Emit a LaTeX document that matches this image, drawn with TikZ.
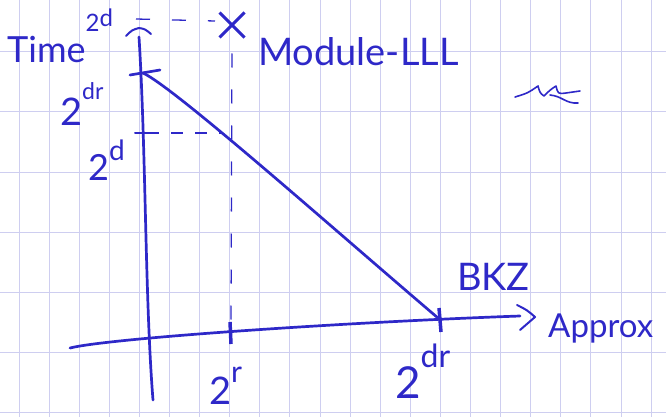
\documentclass[tikz,border=0pt]{standalone}
\usepackage{fontspec}
\setmainfont{Lato}
\usetikzlibrary{shapes.misc}
\definecolor{ink}{RGB}{46,40,200}
\definecolor{gridc}{RGB}{206,206,240}
\newcommand{\rs}[3]{\raisebox{#1}{\fontsize{#2}{#2}\selectfont #3}}
\begin{document}
\begin{tikzpicture}[x=1pt,y=-1pt,
  inkline/.style={draw=ink, line width=2.7pt, line cap=round, line join=round},
  dashline/.style={draw=ink, line width=1.3pt, dash pattern=on 14pt off 22pt},
  hand/.style={text=ink, inner sep=0pt, anchor=base west},
  tickmark/.style={draw=ink, line width=3.5pt},
  gridline/.style={draw=gridc, line width=1pt}]
\fill[white] (0,0) rectangle (666,417);
\useasboundingbox (0,0) rectangle (666,417);
\clip (0,0) rectangle (666,417);
% grid paper
\foreach \i in {0,...,21} \draw[gridline] ({19+30.1*\i},0) -- ({19+30.1*\i},417);
\foreach \j in {0,...,6} \draw[gridline] (0,{52+60*\j}) -- (666,{52+60*\j});
% named points
\coordinate (ytop) at (139,37);
\coordinate (ybot) at (153,400);
\coordinate (xl) at (70,348);
\coordinate (xr) at (520,316);
\coordinate (tdr) at (143,73);
\coordinate (td) at (147,133);
\coordinate (tr) at (231,322);
\coordinate (tbkz) at (438,318);
\coordinate (mdp) at (223,133);
\coordinate (topA) at (136,19);
\coordinate (topB) at (215,21);
\node[cross out, draw=ink, line width=3pt, minimum size=22pt, inner sep=0pt] (mll) at (232,25) {};
% axes
\draw[inkline] (ytop) .. controls (146,150) and (145,300) .. (ybot);
\draw[inkline, line width=2pt] (126,36) .. controls (132,30) .. (139,28) .. controls (145,29) .. (151,34);
\draw[inkline] (xl) .. controls (110,338) and (350,322) .. (xr);
\draw[inkline, line width=2pt] (517,305) .. controls (527,310) .. (535,317) .. controls (528,323) .. (520,330);
% ticks
\draw[inkline] (130,75) -- (160,70);
\draw[inkline, line width=2pt] (135,133) -- (td);
\draw[tickmark] (230,322) -- (231,344);
\draw[tickmark] (439,308) -- (441,332);
% tradeoff curve
\draw[inkline] (tdr) .. controls (175,88) and (330,226) .. (tbkz);
% dashed guides
\draw[dashline] (topA) -- (topB);
\draw[dashline, dash phase=20pt] (mll.south) -- (tr);
\draw[dashline, dash pattern=on 12pt off 12pt] (td) -- (mdp);
% labels
\node[hand, font=\fontsize{36}{36}\selectfont] (time) at (7,63) {Time\rs{31pt}{24}{2\raisebox{5pt}{d}}};
\node[hand, font=\fontsize{38}{38}\selectfont] (ldr) at (60,125) {2\rs{25pt}{23}{dr}};
\node[hand, font=\fontsize{36}{36}\selectfont] (ld) at (88,180) {2\rs{20pt}{28}{d}};
\node[hand, font=\fontsize{38}{38}\selectfont] (lr) at (209,404) {2\rs{22pt}{30}{r}};
\node[hand, font=\fontsize{44}{44}\selectfont] (ldr2) at (395,398) {2\rs{31pt}{32}{dr}};
\node[hand, font=\fontsize{38}{38}\selectfont] (mod) at (258,66) {Module-LLL};
\node[hand, font=\fontsize{38}{38}\selectfont] (bkz) at (457,290) {BKZ};
\node[hand, font=\fontsize{33}{33}\selectfont] (apx) at (548,337) {Approx};
% scribble
\draw[ink, line width=1.6pt, line cap=round, line join=round] (515,97) .. controls (528,93) .. (538,86) .. controls (540,93) .. (544,96) .. controls (550,90) .. (556,86) .. controls (558,94) .. (566,93) -- (580,91);
\draw[ink, line width=1.6pt, line cap=round] (550,95) .. controls (562,96) and (566,104) .. (578,103);
\end{tikzpicture}
\end{document}
